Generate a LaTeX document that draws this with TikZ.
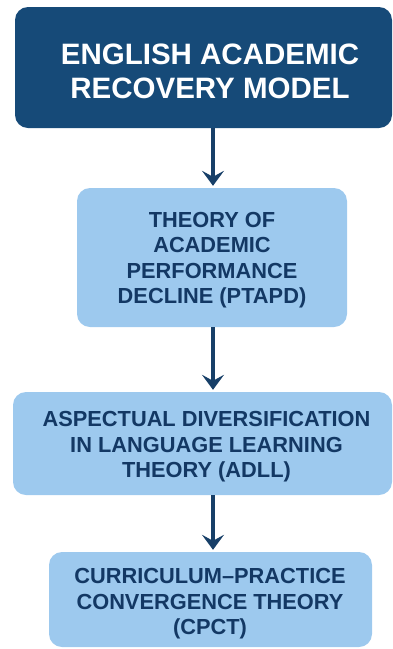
\documentclass[tikz,border=0pt]{standalone}
\usepackage{fontspec}
\setmainfont{Liberation Sans}
\usetikzlibrary{arrows.meta}
\definecolor{navy}{HTML}{164A78}
\definecolor{lightbox}{HTML}{9DC9EE}
\definecolor{darktext}{HTML}{133864}
\definecolor{arrowc}{HTML}{173F68}
\tikzset{
  boxbase/.style={rounded corners=13pt, inner sep=0pt, draw=none},
  darkbox/.style={boxbase, fill=navy},
  litebox/.style={boxbase, fill=lightbox},
  titletext/.style={text=white, align=center, font=\bfseries\fontsize{29.5}{34}\selectfont, inner sep=0pt},
  bodytext/.style={text=darktext, align=center, font=\bfseries\fontsize{21.8}{25.5}\selectfont, inner sep=0pt},
  arr/.style={draw=arrowc, line width=4pt, -{Stealth[length=15pt,width=22pt,inset=6pt]}, shorten >=2pt}
}
\begin{document}
\begin{tikzpicture}[x=1pt,y=-1pt]
\useasboundingbox (0,0) rectangle (392,649);
\node[darkbox, minimum width=377pt, minimum height=121pt] (b1) at (203.5,67.5) {};
\node[litebox, minimum width=270pt, minimum height=139pt] (b2) at (212,257.5) {};
\node[litebox, minimum width=379pt, minimum height=103pt] (b3) at (202.5,443.5) {};
\node[litebox, minimum width=323pt, minimum height=95pt] (b4) at (210.5,599.5) {};
\node[titletext] (t1) at (210,71) {ENGLISH ACADEMIC\\RECOVERY MODEL};
\node[bodytext] (t2) at (212,260) {THEORY OF\\ACADEMIC\\PERFORMANCE\\DECLINE (PTAPD)};
\node[bodytext] (t3) at (206.5,447) {ASPECTUAL DIVERSIFICATION\\IN LANGUAGE LEARNING\\THEORY (ADLL)};
\node[bodytext] (t4) at (210,604) {CURRICULUM–PRACTICE\\CONVERGENCE THEORY\\(CPCT)};
\coordinate (ax) at (213,0);
\draw[arr] (b1.south -| ax) -- (b2.north -| ax);
\draw[arr] (b2.south -| ax) -- (b3.north -| ax);
\draw[arr] (b3.south -| ax) -- (b4.north -| ax);
\end{tikzpicture}
\end{document}
